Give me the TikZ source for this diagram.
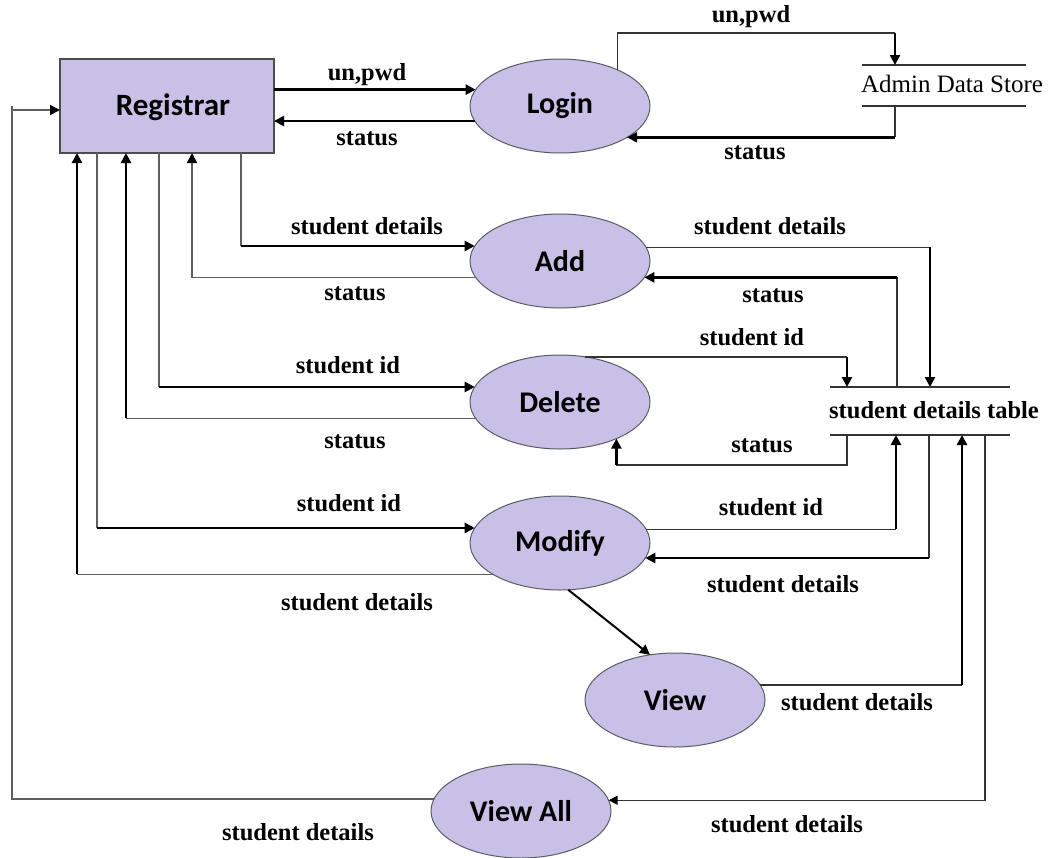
\documentclass[tikz,border=0pt]{standalone}
\usepackage{fontspec}
\setmainfont{Liberation Serif}
\newfontfamily\calib{Carlito}
\usetikzlibrary{shapes.geometric,arrows.meta,calc}
\definecolor{lav}{RGB}{201,192,231}
\definecolor{edge}{RGB}{85,95,100}
\definecolor{thingray}{RGB}{95,95,95}
\begin{document}
\begin{tikzpicture}[x=1pt,y=-1pt,
  proc/.style={ellipse,draw=edge,line width=1pt,fill=lav,minimum width=180pt,minimum height=94pt,inner sep=0pt,outer sep=0pt,font=\calib\bfseries\fontsize{30}{34}\selectfont},
  ent/.style={rectangle,draw=black!70,line width=1.2pt,fill=lav,minimum width=214pt,minimum height=94pt,inner sep=0pt,outer sep=0pt},
  store/.style={rectangle,minimum height=41pt,inner sep=0pt,outer sep=0pt},
  sline/.style={line width=1.4pt,black!80},
  lbl/.style={font=\bfseries\fontsize{24.5}{28}\selectfont,inner sep=0pt},
  stxt/.style={font=\fontsize{25}{29}\selectfont,inner sep=0pt},
  thn/.style={line width=1.6pt,thingray},
  thk/.style={line width=2.6pt,black},
  arr/.style={-{Triangle[length=10pt,width=10pt,color=black]}},
  sarr/.style={-{Triangle[length=9pt,width=9pt,color=black]}}]
\useasboundingbox[fill=white] (0,0) rectangle (1055,857);

% nodes
\node[ent] (reg) at (167,106) {};
\node[font=\calib\bfseries\fontsize{31}{35}\selectfont,inner sep=0pt] (regtxt) at (173,107) {Registrar};
\node[proc] (login) at (560,106) {Login};
\node[proc] (add) at (560,261) {Add};
\node[proc] (del) at (560,402) {Delete};
\node[proc] (mod) at (560,543) {Modify};
\node[proc] (view) at (675,700) {View};
\node[proc] (viewall) at (521,811) {View All};

% data stores
\node[store,minimum width=164pt] (admin) at (944,85.5) {};
\node[stxt] (admintxt) at (952,84) {Admin Data Store};
\draw[sline] (admin.north west) -- (admin.north east);
\draw[sline] (admin.south west) -- (admin.south east);
\node[store,minimum width=180pt,minimum height=48pt] (sdt) at (920,411) {};
\node[lbl] (sdttxt) at (934,410) {student details table};
\draw[sline] (sdt.north west) -- (sdt.north east);
\draw[sline] (sdt.south west) -- (sdt.south east);

% Registrar <-> Login
\draw[thk,arr] (reg.east |- login.169.3) -- (login.169.3);
\draw[thk,arr] (login.190.7) -- (reg.east |- login.190.7);
% Registrar <-> Add
\draw[thn] (reg.south -| 241,0) -- (add.170.7 -| 241,0);
\draw[thk,arr] (add.170.7 -| 241,0) -- (add.170.7);
\draw[thn,arr] (add.191.5) -| (reg.south -| 192,0);
% Registrar <-> Delete
\draw[thn] (reg.south -| 159,0) -- (del.170 -| 159,0);
\draw[thk,arr] (del.170 -| 159,0) -- (del.170);
\draw[thn] (del.191.5) -- (del.191.5 -| 126,0);
\draw[thk,arr] (del.191.5 -| 126,0) -- (reg.south -| 126,0);
% Registrar <-> Modify
\draw[thn] (reg.south -| 97,0) -- (mod.170 -| 97,0);
\draw[thk,arr] (mod.170 -| 97,0) -- (mod.170);
\draw[thn] (mod.205.9) -- (mod.205.9 -| 77,0);
\draw[thk,arr] (mod.205.9 -| 77,0) -- (reg.south -| 77,0);
% View All -> Registrar
\coordinate (lc) at (12,0);
\draw[thn,arr] (viewall.172.8) -| (lc |- reg.west) ++(0,4) -- ([yshift=-4pt]reg.west);

% Login <-> Admin Data Store
\coordinate (c10) at (895,33);
\draw[sline] (login.32) |- (c10);
\draw[thk,arr] (c10) -- (admin.north -| c10);
\draw[sline] (admin.south -| c10) -- (login.335.4 -| c10);
\draw[thk,arr] (login.335.4 -| c10) -- (login.335.4);

% Add <-> table
\draw[sline] (add.9.25) -- (add.9.25 -| 930,0);
\draw[thk,arr] (add.9.25 -| 930,0) -- (sdt.north -| 930,0);
\draw[sline] (sdt.north -| 897,0) -- (add.349.3 -| 897,0);
\draw[thk,arr] (add.349.3 -| 897,0) -- (add.349.3);
% Delete <-> table
\draw[sline] (del.61) -- (del.61 -| 847,0);
\draw[thk,arr] (del.61 -| 847,0) -- (sdt.north -| 847,0);
\coordinate (c15) at (847,465);
\draw[sline] (sdt.south -| c15) -- (c15) -- (c15 -| del.327.4);
\draw[thk,arr] (c15 -| del.327.4) -- (del.327.4);
% Modify <-> table
\draw[sline] (mod.9.25) -- (mod.9.25 -| 896,0);
\draw[thk,arr] (mod.9.25 -| 896,0) -- (sdt.south -| 896,0);
\draw[sline] (sdt.south -| 929,0) -- (mod.350 -| 929,0);
\draw[thk,arr] (mod.350 -| 929,0) -- (mod.350);
% Modify -> View
\draw[line width=2pt,black,arr] (mod.280) -- (view.119);
% View -> table
\draw[sline] (view.10) -- (view.10 -| 962,0);
\draw[thk,arr] (view.10 -| 962,0) -- (sdt.south -| 962,0);
% table -> View All
\draw[sline,sarr] (sdt.south -| 985,0) |- (viewall.7.85);

% labels
\node[lbl] at (367,75) {un,pwd};
\node[lbl] at (367,139) {status};
\node[lbl] at (367,226) {student details};
\node[lbl] at (355,294) {status};
\node[lbl] at (348,365) {student id};
\node[lbl] at (355,442) {status};
\node[lbl] at (349,503) {student id};
\node[lbl] at (357,602) {student details};
\node[lbl] at (298,832) {student details};
\node[lbl] at (751,17) {un,pwd};
\node[lbl] at (755,153) {status};
\node[lbl] at (770,226) {student details};
\node[lbl] at (773,296) {status};
\node[lbl] at (752,337) {student id};
\node[lbl] at (762,446) {status};
\node[lbl] at (771,507) {student id};
\node[lbl] at (783,584) {student details};
\node[lbl] at (857,702) {student details};
\node[lbl] at (787,824) {student details};
\end{tikzpicture}
\end{document}
